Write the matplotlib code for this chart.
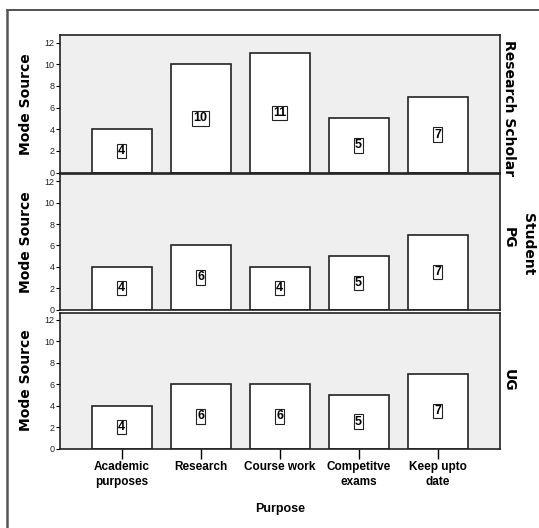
import matplotlib
matplotlib.use("Agg")
import matplotlib.pyplot as plt
from matplotlib.lines import Line2D

# Data
purposes = ["Academic\npurposes", "Research", "Course work", "Competitve\nexams", "Keep upto\ndate"]
groups = ["Research Scholar", "PG", "UG"]
research_scholar = [4, 10, 11, 5, 7]
pg = [4, 6, 4, 5, 7]
ug = [4, 6, 6, 5, 7]
series = [research_scholar, pg, ug]
yticks = [0, 2, 4, 6, 8, 10, 12]

W, H = 539, 528
fig = plt.figure(figsize=(W / 100, H / 100), dpi=100, facecolor="white")

# outer frame: only top and left edges show in the reference
fig.lines.append(Line2D([7 / W, 1], [1 - 9.5 / H, 1 - 9.5 / H], transform=fig.transFigure,
                        color="#333333", linewidth=1.2))
fig.lines.append(Line2D([7 / W, 7 / W], [0, 1 - 9.5 / H], transform=fig.transFigure,
                        color="#555555", linewidth=1.8))

narrow = ["Liberation Sans Narrow", "Liberation Sans", "DejaVu Sans"]
sans = ["Liberation Sans", "DejaVu Sans"]

# panel pixel bounds (top, bottom)
panels = [(35, 172.5), (174, 309.5), (312.5, 448.5)]
left, right = 60, 500

x = list(range(len(purposes)))
for i, (vals, grp) in enumerate(zip(series, groups)):
    top, bot = panels[i]
    ax = fig.add_axes([left / W, 1 - bot / H, (right - left) / W, (bot - top) / H])
    ax.set_facecolor("#efefef")
    ax.bar(x, vals, width=0.76, color="white", edgecolor="#222222", linewidth=1.2, zorder=2)
    for xi, v in zip(x, vals):
        ax.text(xi, v / 2, str(v), ha="center", va="center", fontsize=9,
                fontweight="bold", family=sans, zorder=3,
                bbox=dict(boxstyle="square,pad=0.1", facecolor="white",
                          edgecolor="#222222", linewidth=0.8))
    ax.set_xlim(-0.78, 4.79)
    ax.set_ylim(0, 12.7)
    ax.set_yticks(yticks)
    ax.set_yticklabels([str(t) for t in yticks], fontsize=6.5, family=sans, color="#222222")
    ax.tick_params(axis="y", length=3, width=0.8, pad=1)
    for s in ax.spines.values():
        s.set_linewidth(1.2)
        s.set_color("#222222")
    ax.set_ylabel("Mode Source", fontsize=10, fontweight="bold")
    ax.yaxis.set_label_coords(-0.062, 0.5)
    if i == 0:
        ax.text(1.005, 1 - 5 / (bot - top), grp, transform=ax.transAxes,
                rotation=-90, ha="left", va="top", fontsize=10,
                fontweight="bold", clip_on=False)
    else:
        ax.text(1.005, 0.53 if i == 1 else 0.5, grp, transform=ax.transAxes,
                rotation=-90, ha="left", va="center", fontsize=10,
                fontweight="bold", clip_on=False)
    if i < 2:
        ax.set_xticks([])
    else:
        ax.set_xticks(x)
        ax.set_xticklabels(purposes, fontsize=8.5, fontweight="bold", family=narrow,
                           linespacing=1.35)
        ax.tick_params(axis="x", length=7, width=1.0, pad=2)
        ax.set_xlabel("Purpose", fontsize=9, fontweight="bold", family=sans, labelpad=11)

fig.text(528 / W, 1 - 244 / H, "Student", rotation=-90, ha="center", va="center",
         fontsize=10, fontweight="bold")

fig.savefig("out.png", dpi=100, facecolor="white")
